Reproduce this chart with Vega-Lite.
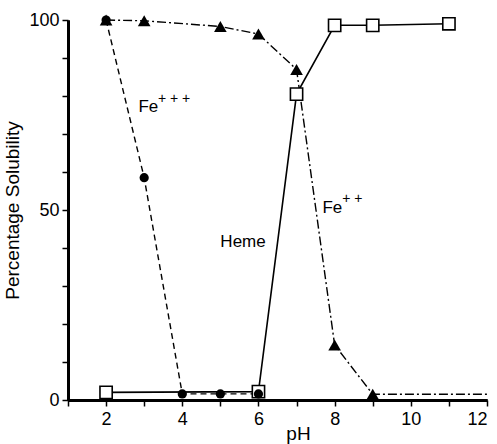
{
  "$schema": "https://vega.github.io/schema/vega-lite/v6.json",
  "width": 419,
  "height": 380,
  "autosize": "none",
  "padding": {"left": 68, "top": 20, "right": 10, "bottom": 44},
  "background": "white",
  "config": {
    "view": {"stroke": null},
    "font": "Liberation Sans",
    "axis": {"grid": false, "domainColor": "black", "domainWidth": 3, "tickColor": "black", "tickWidth": 1.5, "tickSize": 6, "labelColor": "black", "labelFont": "Liberation Sans", "labelFontSize": 18, "labelOverlap": false, "titleFont": "Liberation Sans", "titleFontSize": 19, "titleFontWeight": "normal", "titleColor": "black"}
  },
  "resolve": {"axis": {"x": "independent", "y": "independent"}},
  "datasets": {
    "curves": [
      {"series": "Fe+++", "pH": 2, "value": 100},
      {"series": "Fe+++", "pH": 3, "value": 58.5},
      {"series": "Fe+++", "pH": 4, "value": 1.6},
      {"series": "Fe+++", "pH": 5, "value": 1.6},
      {"series": "Fe+++", "pH": 6, "value": 1.6},
      {"series": "Heme", "pH": 2, "value": 2},
      {"series": "Heme", "pH": 6, "value": 2.2},
      {"series": "Heme", "pH": 7, "value": 80.5},
      {"series": "Heme", "pH": 8, "value": 98.6},
      {"series": "Heme", "pH": 9, "value": 98.6},
      {"series": "Heme", "pH": 11, "value": 99},
      {"series": "Fe++", "pH": 2, "value": 100},
      {"series": "Fe++", "pH": 3, "value": 99.8},
      {"series": "Fe++", "pH": 5, "value": 98.3},
      {"series": "Fe++", "pH": 6, "value": 96.3},
      {"series": "Fe++", "pH": 7, "value": 87},
      {"series": "Fe++", "pH": 8, "value": 14.5},
      {"series": "Fe++", "pH": 9, "value": 1.5},
      {"series": "Fe++", "pH": 12, "value": 1.5}
    ],
    "labels": [
      {"text": "Fe", "pH": 2.85, "value": 77, "kind": "main"},
      {"text": "+ + +", "pH": 3.36, "value": 79.3, "kind": "sup"},
      {"text": "Heme", "pH": 5.0, "value": 41.5, "kind": "main"},
      {"text": "Fe", "pH": 7.68, "value": 50.5, "kind": "main"},
      {"text": "+ +", "pH": 8.2, "value": 52.8, "kind": "sup"}
    ]
  },
  "layer": [
    {
      "data": {"name": "curves"},
      "transform": [{"filter": "datum.series === 'Fe+++'"}],
      "mark": {"type": "line", "color": "black", "strokeWidth": 1.4, "strokeDash": [6, 4]},
      "encoding": {
        "x": {"field": "pH", "type": "quantitative", "scale": {"domain": [1, 12], "nice": false, "zero": false},
          "axis": {"orient": "bottom", "values": [2,4,6,8,10,12], "title": "pH", "titleX": 230, "titleY": 39, "titleBaseline": "alphabetic", "labelPadding": 4}},
        "y": {"field": "value", "type": "quantitative", "scale": {"domain": [0, 100], "nice": false},
          "axis": {"orient": "left", "values": [0,50,100], "title": "Percentage Solubility", "titlePadding": 6, "labelPadding": 3}}
      }
    },
    {
      "data": {"name": "curves"},
      "transform": [{"filter": "datum.series === 'Fe++'"}],
      "mark": {"type": "line", "color": "black", "strokeWidth": 1.4, "strokeDash": [9, 3, 2, 3]},
      "encoding": {
        "x": {"field": "pH", "type": "quantitative",
          "axis": {"orient": "bottom", "values": [1,3,5,7,9,11], "labels": false, "title": null}},
        "y": {"field": "value", "type": "quantitative",
          "axis": {"orient": "left", "values": [10,20,30,40,60,70,80,90], "labels": false, "title": null}}
      }
    },
    {
      "data": {"name": "curves"},
      "transform": [{"filter": "datum.series === 'Heme'"}],
      "mark": {"type": "line", "color": "black", "strokeWidth": 1.6},
      "encoding": {
        "x": {"field": "pH", "type": "quantitative", "axis": null},
        "y": {"field": "value", "type": "quantitative", "axis": null}
      }
    },
    {
      "data": {"name": "curves"},
      "transform": [{"filter": "datum.series === 'Fe++' && datum.pH < 12"}],
      "mark": {"type": "point", "shape": "triangle-up", "filled": true, "color": "black", "size": 160, "opacity": 1},
      "encoding": {
        "x": {"field": "pH", "type": "quantitative", "axis": null},
        "y": {"field": "value", "type": "quantitative", "axis": null}
      }
    },
    {
      "data": {"name": "curves"},
      "transform": [{"filter": "datum.series === 'Heme'"}],
      "mark": {"type": "point", "shape": "square", "filled": true, "fill": "white", "stroke": "black", "strokeWidth": 1.6, "size": 150, "opacity": 1},
      "encoding": {
        "x": {"field": "pH", "type": "quantitative", "axis": null},
        "y": {"field": "value", "type": "quantitative", "axis": null}
      }
    },
    {
      "data": {"name": "curves"},
      "transform": [{"filter": "datum.series === 'Fe+++'"}],
      "mark": {"type": "point", "shape": "circle", "filled": true, "color": "black", "size": 85, "opacity": 1},
      "encoding": {
        "x": {"field": "pH", "type": "quantitative", "axis": null},
        "y": {"field": "value", "type": "quantitative", "axis": null}
      }
    },
    {
      "data": {"name": "labels"},
      "transform": [{"filter": "datum.kind === 'main'"}],
      "mark": {"type": "text", "align": "left", "baseline": "middle", "fontSize": 17, "fill": "black", "font": "Liberation Sans"},
      "encoding": {
        "x": {"field": "pH", "type": "quantitative", "axis": null},
        "y": {"field": "value", "type": "quantitative", "axis": null},
        "text": {"field": "text"}
      }
    },
    {
      "data": {"name": "labels"},
      "transform": [{"filter": "datum.kind === 'sup'"}],
      "mark": {"type": "text", "align": "left", "baseline": "middle", "fontSize": 14, "fill": "black", "font": "Liberation Sans"},
      "encoding": {
        "x": {"field": "pH", "type": "quantitative", "axis": null},
        "y": {"field": "value", "type": "quantitative", "axis": null},
        "text": {"field": "text"}
      }
    }
  ]
}
